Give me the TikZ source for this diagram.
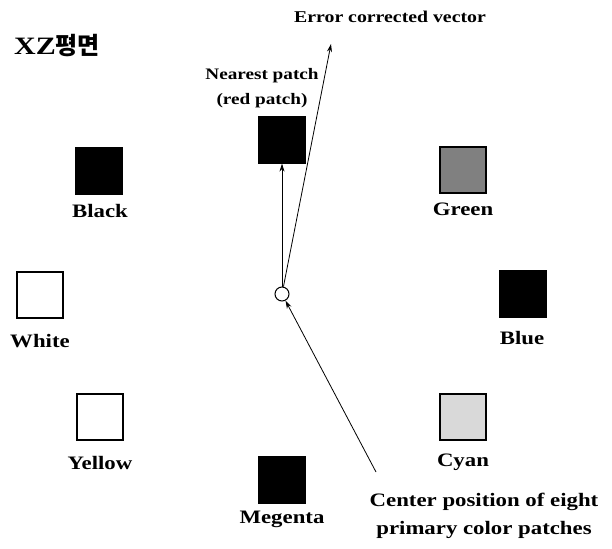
\documentclass[tikz,border=0pt]{standalone}
\usepackage{fontspec}
\setmainfont{Liberation Serif}[FakeStretch=1.2]
\newfontfamily\cjk{Noto Sans CJK KR}
\usetikzlibrary{arrows.meta}
\begin{document}
\begin{tikzpicture}[x=1pt,y=-1pt,
  patch/.style={draw=black,line width=1.2pt,minimum size=46pt,inner sep=0pt},
  lbl/.style={font=\bfseries\fontsize{19}{21}\selectfont,inner sep=0pt},
  vec/.style={line width=0.8pt,-{Stealth[length=8pt,width=5pt]}}]
\useasboundingbox (0,0) rectangle (612,548);
\node[lbl,font=\bfseries\fontsize{25}{27}\selectfont,anchor=west] (title) at (14,46) {XZ{\cjk\bfseries\fontsize{24}{26}\selectfont 평면}};
\node[lbl,font=\bfseries\fontsize{16.5}{18}\selectfont] (err) at (390,17) {Error corrected vector};
\node[lbl,font=\bfseries\fontsize{16}{25}\selectfont,align=center] (near) at (262,88) {Nearest patch\\(red patch)};
\node[patch,fill=black] (red) at (282,140) {};
\node[patch,fill=black] (black) at (99,171) {};
\node[lbl] (lblack) at (100,211) {Black};
\node[patch,fill=black!50] (green) at (463,170) {};
\node[lbl] (lgreen) at (463,209) {Green};
\node[patch,fill=white] (white) at (40,295) {};
\node[lbl] (lwhite) at (40,341) {White};
\node[patch,fill=black] (blue) at (523,294) {};
\node[lbl] (lblue) at (522,338) {Blue};
\node[patch,fill=white] (yellow) at (100,417) {};
\node[lbl] (lyellow) at (100,463) {Yellow};
\node[patch,fill=black!15] (cyan) at (463,417) {};
\node[lbl] (lcyan) at (463,462) {Cyan};
\node[patch,fill=black] (magenta) at (282,480) {};
\node[lbl] (lmagenta) at (282,519) {Megenta};
\node[draw,circle,line width=1pt,minimum size=14pt,inner sep=0pt,fill=white] (c) at (282,294) {};
\node[lbl,font=\bfseries\fontsize{19}{28}\selectfont,align=center] (center) at (484,516) {Center position of eight\\primary color patches};
\coordinate (errtip) at (331,44);
\coordinate (tail) at (376,472);
\draw[vec] (c) -- (red);
\draw[vec] (c) -- (errtip);
\draw[vec] (tail) -- (c);
\end{tikzpicture}
\end{document}
